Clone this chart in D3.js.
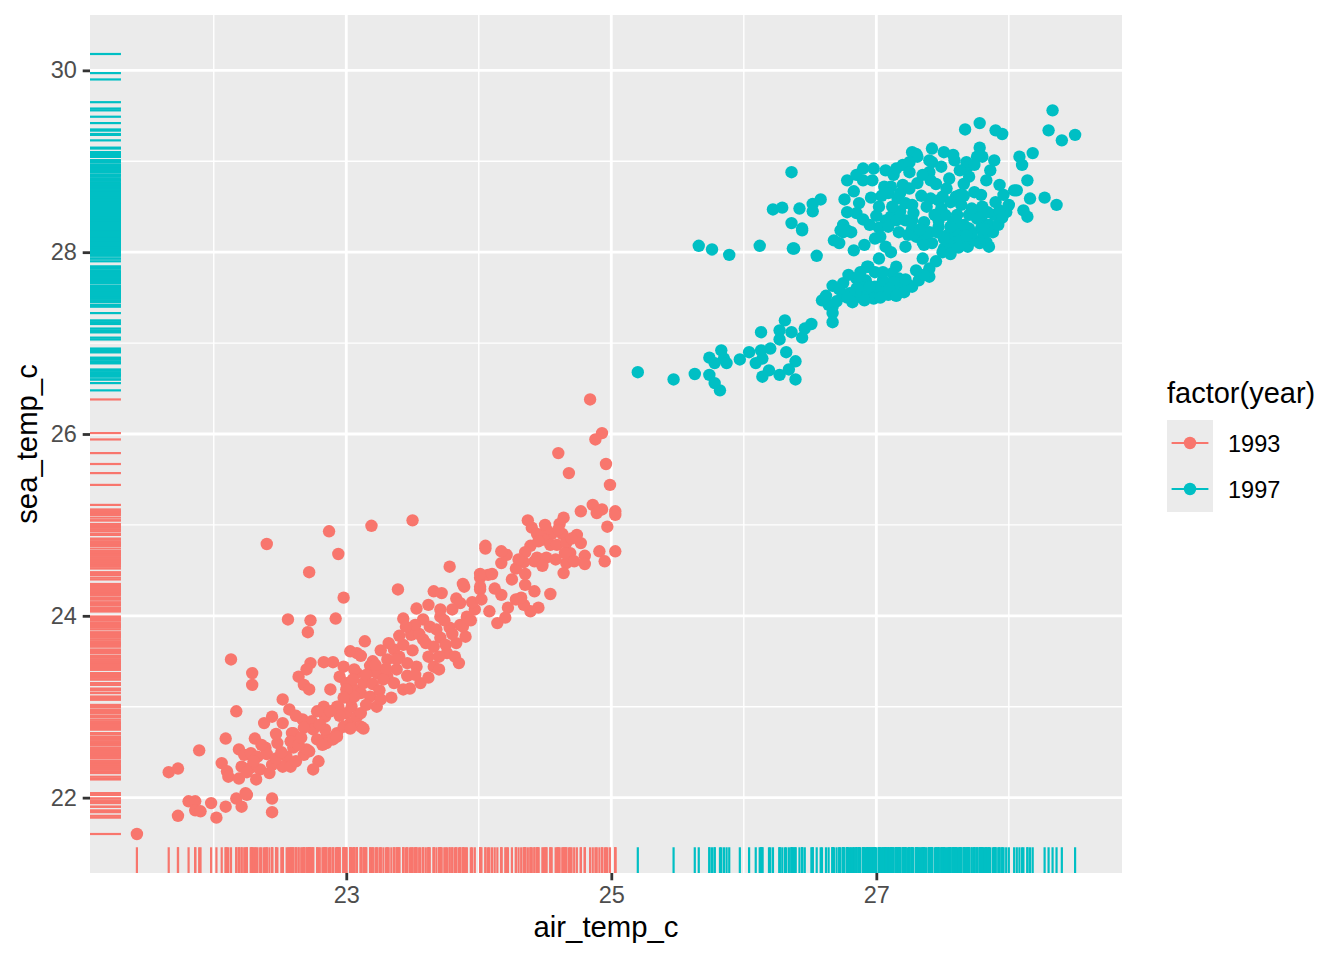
<!DOCTYPE html>
<html lang="en">
<head>
<meta charset="utf-8">
<title>sea_temp_c vs air_temp_c</title>
<script src="https://d3js.org/d3.v7.min.js"></script>
<style>
  body { margin: 0; background: #fff; }
  text { font-family: "Liberation Sans", Arial, Helvetica, sans-serif; }
</style>
</head>
<body>
<script>
// [air_temp_c, sea_temp_c] pairs
var obs1993 = [
  [21.42,21.60],[21.73,21.80],[21.66,22.28],[21.73,22.32],[21.89,22.52],[21.81,21.96],[21.86,21.96],
  [21.86,21.86],[21.90,21.85],[21.98,21.94],[22.02,21.78],[22.09,21.90],[22.17,21.99],[22.21,21.90],
  [22.24,22.05],[22.25,22.03],[22.44,21.99],[22.44,21.84],[22.13,23.52],[22.29,23.37],[22.29,23.24],
  [22.17,22.95],[22.09,22.65],[22.06,22.38],[22.10,22.29],[22.11,22.23],[22.19,22.53],[22.23,22.47],
  [22.28,22.49],[22.33,22.45],[22.21,22.34],[22.28,22.33],[22.35,22.31],[22.32,22.20],[22.19,22.21],
  [22.38,22.82],[22.44,22.89],[22.52,22.82],[22.59,22.71],[22.31,22.65],[22.39,22.55],[22.48,22.60],
  [22.60,22.55],[22.55,22.45],[22.44,22.36],[22.52,22.34],[22.58,22.34],[22.68,22.47],[22.72,22.51],
  [22.79,22.40],[22.75,22.31],[22.52,23.08],[22.57,22.97],[22.64,23.33],[22.68,23.24],[22.73,23.48],
  [22.70,23.41],[22.72,23.19],[22.83,23.49],[22.90,23.49],[22.98,23.44],[22.88,23.19],[22.67,22.86],
  [22.74,22.84],[22.75,22.75],[22.68,22.77],[22.83,23.00],[22.84,22.89],[22.85,22.67],[22.90,22.64],
  [22.93,22.71],[22.84,22.75],[23.03,23.61],[23.08,23.59],[22.95,23.33],[23.00,23.26],[23.06,23.19],
  [22.94,23.00],[23.00,22.93],[23.03,22.82],[22.98,22.78],[23.04,23.00],[23.08,23.37],[23.11,23.15],
  [23.03,23.08],[23.08,22.89],[23.11,22.78],
  [22.40,24.79],[22.87,24.93],[23.19,24.99],[23.50,25.05],[22.94,24.68],[22.72,24.48],[22.98,24.20],
  [22.56,23.96],[22.73,23.95],[22.71,23.82],[22.92,23.97],[23.78,24.54],[23.39,24.29],[24.05,24.74],
  [24.01,24.42],[24.01,24.29],[24.07,24.45],[24.08,24.05],[23.89,24.32],[23.66,24.27],[23.72,24.25],
  [23.83,24.19],[23.86,24.14],[23.80,24.07],[23.71,24.07],[23.62,24.12],[23.53,24.08],[23.43,23.97],
  [23.58,23.96],[23.63,23.88],[23.49,23.79],[23.71,23.99],[23.78,23.87],[23.91,23.99],[23.97,24.07],
  [23.86,23.90],[23.90,23.77],[23.71,23.76],[23.66,23.66],[23.83,23.70],[23.76,23.59],[23.58,23.74],
  [23.62,23.55],[23.66,23.44],[23.53,23.44],[23.46,23.34],[23.56,23.26],[23.70,23.41],[23.82,23.55],
  [23.85,23.48],[23.14,23.72],[23.11,23.56],[23.18,23.45],[23.36,23.63],[23.43,23.68],[23.31,23.52],
  [23.23,23.37],[23.31,23.33],[23.38,23.41],[23.36,23.26],[23.43,23.19],[23.34,23.10],[23.23,23.00],
  [23.18,23.11],[23.13,23.26],[23.06,23.41],[23.06,23.11],[23.11,22.93],[23.13,22.76],[23.03,22.76],
  [24.84,26.38],[24.93,26.01],[24.88,25.94],[24.60,25.79],[24.96,25.67],[24.68,25.57],[24.99,25.44],
  [24.77,25.15],[24.86,25.22],[24.93,25.17],[24.89,25.13],[25.03,25.15],[25.03,25.11],[24.97,24.98],
  [25.03,24.71],[24.91,24.71],[24.95,24.60],[24.64,25.08],[24.61,25.01],[24.63,24.90],[24.55,24.90],
  [24.51,24.95],[24.49,24.84],[24.54,24.78],[24.59,24.78],[24.66,24.80],[24.74,24.89],[24.77,24.80],
  [24.69,24.69],[24.66,24.58],[24.65,24.69],[24.37,25.05],[24.40,24.97],[24.44,24.90],[24.39,24.77],
  [24.44,24.64],[24.42,24.60],[24.51,24.64],[24.34,24.59],[24.35,24.46],[24.64,24.47],[24.80,24.66],
  [24.80,24.57],[24.54,24.24],[24.35,24.34],[24.42,24.27],[24.45,24.09],[24.39,24.05],[24.34,24.12],
  [24.32,24.20],[24.28,24.18],[24.22,24.09],[24.17,24.23],[24.17,24.58],[24.21,24.67],[24.17,24.71],
  [24.05,24.77],[24.01,24.46],[24.10,24.46],[23.88,24.35],[24.01,24.32],[24.14,23.92],[24.20,23.98],
  [23.00,23.19],[22.93,23.00],[22.93,22.67],[22.85,22.60],[22.78,22.64],[22.60,22.71],[22.70,22.53],
  [22.78,22.95],[22.62,22.90],[22.58,22.62],[22.64,22.58],[22.82,22.58],[22.95,22.90],[22.88,22.95],
  [22.47,22.70],[22.40,22.48],[22.36,22.58],[22.47,22.43],[22.62,22.40],[22.30,22.40],[22.25,22.28],
  [22.42,22.27],[22.51,22.50],[22.66,22.66],[22.80,22.80],[22.98,23.10],[23.05,23.30],[23.15,23.35],
  [23.20,23.25],[23.25,23.18],[23.28,23.30],[23.20,23.50],[23.26,23.62],[23.32,23.70],[23.40,23.55],
  [23.46,23.48],[23.50,23.62],[23.55,23.80],[23.60,23.70],[23.68,23.85],[23.74,23.95],[23.80,23.80],
  [23.88,23.88],[23.94,23.95],[23.52,23.90],[23.45,23.88],[23.40,23.78],[23.30,23.42],[23.22,23.46],
  [23.26,23.08],[23.15,23.02],[23.38,23.52],[23.48,23.20],[23.52,23.35],[23.62,23.32],[23.70,23.55],
  [23.75,23.68],[23.95,24.15],[24.02,24.18],[24.12,24.30],[24.25,24.40],[24.28,24.52],[24.35,24.70],
  [24.48,24.55],[24.58,24.62],[24.70,24.85],[24.72,24.60],[24.60,24.95],[24.45,24.82],[24.30,24.62],
  [24.50,25.00]
];

var obs1997 = [
  [25.66,28.07],[25.76,28.03],[25.89,27.97],[26.12,28.07],[26.37,28.04],[26.55,27.96],[26.44,28.24],
  [26.68,28.13],[26.72,28.10],[26.75,28.22],[26.81,28.22],[26.83,28.02],[26.91,28.08],[26.93,27.84],
  [26.67,27.63],[26.72,27.59],[26.75,27.66],[26.79,27.75],[26.85,27.71],[26.87,27.62],[26.87,27.51],
  [26.90,27.69],[26.93,27.58],[26.59,27.47],[26.64,27.42],[26.67,27.40],[26.67,27.33],[26.67,27.23],
  [26.51,27.21],[26.46,27.16],[26.44,27.06],[26.36,27.12],[26.31,27.25],[26.27,27.14],[26.27,27.04],
  [26.13,27.12],[26.32,26.90],[26.39,26.80],[26.34,26.71],[26.39,26.60],[26.27,26.65],[26.19,26.70],
  [26.14,26.63],[26.20,26.94],[26.13,26.92],[26.14,26.83],[26.09,26.78],[26.04,26.90],[25.97,26.82],
  [25.85,26.83],[25.83,26.92],[25.74,26.84],[25.78,26.78],[25.87,26.78],[25.74,26.65],[25.78,26.56],
  [25.82,26.48],[25.63,26.66],[25.47,26.60],[25.20,26.68],
  [26.36,28.88],[26.22,28.47],[26.29,28.49],[26.42,28.48],[26.52,28.53],[26.58,28.58],[26.52,28.45],
  [26.36,28.32],[26.44,28.26],[26.38,28.04],[26.78,28.79],[26.90,28.92],[26.90,28.79],[26.97,28.79],
  [26.83,28.67],[26.76,28.58],[26.87,28.54],[26.78,28.44],[26.85,28.43],[26.90,28.36],[26.75,28.30],
  [26.78,28.24],[26.73,28.24],[27.02,28.50],[27.07,28.90],[27.06,28.72],[27.13,28.85],[27.20,28.96],
  [27.27,29.10],[27.30,29.08],[27.42,29.14],[27.51,29.10],[27.58,29.07],[27.42,28.99],[27.49,28.94],
  [27.40,28.88],[27.41,28.79],[27.31,28.76],[27.55,28.81],[27.20,28.74],[27.11,28.72],[27.09,28.65],
  [27.16,28.59],[27.22,28.54],[27.27,28.52],[27.41,28.59],[27.47,28.57],[27.49,28.48],[27.60,28.61],
  [27.11,28.39],[27.07,28.35],[27.15,28.35],[27.22,28.35],[27.27,28.35],[27.36,28.33],[27.02,28.27],
  [27.03,28.17],[27.09,28.28],[27.17,28.22],[27.27,28.26],[27.30,28.17],[27.37,28.15],[27.47,28.35],
  [27.52,28.41],[27.58,28.13],[27.42,28.10],[27.22,28.06],[27.07,28.06],[27.11,28.00],[26.99,28.15],
  [27.02,27.93],[26.94,27.84],[26.99,27.78],[27.15,27.84],[27.35,27.93],[27.40,27.82],[27.40,27.73],
  [27.12,27.77],[27.27,27.62],[27.20,27.58],[27.17,27.71],[27.07,27.66],[26.99,27.62],[26.92,27.69],
  [26.87,27.73],[26.85,27.60],[26.97,27.53],[27.07,27.55],
  [28.33,29.56],[28.30,29.34],[28.40,29.23],[28.50,29.29],[28.18,29.09],[28.08,29.05],[28.10,28.96],
  [28.06,28.68],[28.16,28.59],[28.27,28.60],[28.36,28.52],[28.14,28.39],[27.78,29.42],[27.67,29.35],
  [27.90,29.34],[27.95,29.30],[27.78,29.15],[27.80,29.05],[27.76,29.05],[27.68,28.99],[27.69,28.94],
  [27.86,28.90],[27.83,28.79],[27.70,28.83],[27.66,28.75],[27.74,28.66],[27.79,28.63],[27.90,28.55],
  [27.98,28.44],[27.63,28.63],[27.74,28.46],[27.79,28.44],[27.80,28.33],[27.79,28.26],[27.85,28.06],
  [27.83,28.11],[27.69,28.06],[27.70,28.26],[27.61,28.41],[27.58,28.33],[27.64,28.22],[27.54,28.19],
  [27.51,28.04],[27.35,28.11],[27.47,28.28],[27.50,28.61],[27.31,29.05],[27.25,28.99],[27.24,28.19],
  [27.59,28.24],[27.63,28.13],[27.66,28.30],[27.74,28.13],[27.81,28.19],[27.85,28.30],[27.89,28.41],
  [27.93,28.46],[27.55,28.08],[27.51,28.15],[27.40,28.22],[27.36,28.08],[27.44,28.41],[27.64,28.52],
  [27.70,28.41],[27.76,28.37],[27.84,28.44],[28.00,28.52],[27.96,28.63],[28.04,28.68],[28.11,28.46],
  [28.14,28.79],[27.93,28.74],[27.89,29.01],[27.74,28.96],[27.63,28.90],[27.59,29.01],[27.40,29.01],
  [27.02,27.58],[27.09,27.53],[27.17,27.60],[27.21,27.56],[27.25,27.63],[27.32,27.69],[27.36,27.75],
  [27.13,27.67],[27.05,27.69],[26.94,27.56],[26.98,27.49],[26.91,27.47],
  [26.80,27.55],[26.95,27.62],[27.03,27.50],[27.10,27.60],[27.15,27.52],[26.88,27.78],[26.75,27.52],
  [26.82,27.45],[27.05,27.78],[27.22,27.70],[27.30,27.80],[27.45,27.90],[27.50,28.00],[27.56,27.98],
  [27.62,28.05],[27.72,28.20],[27.78,28.10],[27.82,28.25],[27.88,28.22],[27.92,28.30],[27.95,28.38],
  [27.60,28.35],[27.56,28.28],[27.68,28.18],[27.72,28.48],[27.80,28.50],[27.46,28.22],[27.33,28.25],
  [27.28,28.43],[27.18,28.45],[27.12,28.50],[27.00,28.40],[26.95,28.30],[26.96,28.60],[27.04,28.62],
  [27.18,28.65],[27.25,28.70],[27.34,28.62],[27.38,28.50],[27.56,28.55],[27.66,28.62],[27.53,28.70],
  [27.45,28.75],[27.35,28.85],[27.25,28.88],[27.15,28.92],[26.98,28.92],[26.85,28.85],
  [26.62,27.52],[26.70,27.46],[26.78,27.50]
];

// 1997 days with a sea reading but no air reading (rug only)
var seaOnly1997 = [30.18, 29.97, 29.90, 29.65, 29.58, 29.49];

var years = ["1993", "1997"];
var colours = ["#F8766D", "#00BFC4"];
var xMajor = [23, 25, 27], xMinor = [22, 24, 26, 28];
var yMajor = [22, 24, 26, 28, 30], yMinor = [23, 25, 27, 29];

var width = 1344, height = 960;
var panel = { left: 90, top: 15, right: 1122, bottom: 873 };

var rows = [];
obs1993.forEach(function(d) { rows.push({ year: "1993", air: d[0], sea: d[1] }); });
obs1997.forEach(function(d) { rows.push({ year: "1997", air: d[0], sea: d[1] }); });
seaOnly1997.forEach(function(s) { rows.push({ year: "1997", air: null, sea: s }); });

function expand(ext) {
  var pad = (ext[1] - ext[0]) * 0.05;
  return [ext[0] - pad, ext[1] + pad];
}

var x = d3.scaleLinear()
  .domain(expand(d3.extent(rows.filter(function(d) { return d.air != null; }), function(d) { return d.air; })))
  .range([panel.left, panel.right]);
var y = d3.scaleLinear()
  .domain(expand(d3.extent(rows, function(d) { return d.sea; })))
  .range([panel.bottom, panel.top]);
var colour = d3.scaleOrdinal().domain(years).range(colours);

var svg = d3.select("body").append("svg")
  .attr("width", width)
  .attr("height", height);

// panel background
svg.append("rect")
  .attr("x", panel.left).attr("y", panel.top)
  .attr("width", panel.right - panel.left)
  .attr("height", panel.bottom - panel.top)
  .attr("fill", "#EBEBEB");

var grid = svg.append("g").attr("stroke", "#fff");
grid.selectAll(".vmin").data(xMinor).enter().append("line")
  .attr("x1", function(d) { return x(d); }).attr("x2", function(d) { return x(d); })
  .attr("y1", panel.top).attr("y2", panel.bottom).attr("stroke-width", 1.4);
grid.selectAll(".hmin").data(yMinor).enter().append("line")
  .attr("y1", function(d) { return y(d); }).attr("y2", function(d) { return y(d); })
  .attr("x1", panel.left).attr("x2", panel.right).attr("stroke-width", 1.4);
grid.selectAll(".vmaj").data(xMajor).enter().append("line")
  .attr("x1", function(d) { return x(d); }).attr("x2", function(d) { return x(d); })
  .attr("y1", panel.top).attr("y2", panel.bottom).attr("stroke-width", 2.8);
grid.selectAll(".hmaj").data(yMajor).enter().append("line")
  .attr("y1", function(d) { return y(d); }).attr("y2", function(d) { return y(d); })
  .attr("x1", panel.left).attr("x2", panel.right).attr("stroke-width", 2.8);

// points
var withAir = rows.filter(function(d) { return d.air != null; });
svg.append("g").selectAll("circle")
  .data(withAir)
  .enter().append("circle")
  .attr("cx", function(d) { return x(d.air); })
  .attr("cy", function(d) { return y(d.sea); })
  .attr("r", 6.2)
  .attr("fill", function(d) { return colour(d.year); });

// rugs
var rugX = (panel.right - panel.left) * 0.03;
var rugY = (panel.bottom - panel.top) * 0.03;
var rug = svg.append("g").attr("stroke-width", 2.2);
rug.selectAll(".rb").data(withAir).enter().append("line")
  .attr("x1", function(d) { return x(d.air); }).attr("x2", function(d) { return x(d.air); })
  .attr("y1", panel.bottom).attr("y2", panel.bottom - rugY)
  .attr("stroke", function(d) { return colour(d.year); });
rug.selectAll(".rl").data(rows).enter().append("line")
  .attr("y1", function(d) { return y(d.sea); }).attr("y2", function(d) { return y(d.sea); })
  .attr("x1", panel.left).attr("x2", panel.left + rugX)
  .attr("stroke", function(d) { return colour(d.year); });

// axes
var xAxis = d3.axisBottom(x).tickValues(xMajor).tickSize(7.3).tickPadding(5.9);
var yAxis = d3.axisLeft(y).tickValues(yMajor).tickSize(7.3).tickPadding(5.9);

function styleAxis(g) {
  g.select(".domain").remove();
  g.selectAll(".tick line").attr("stroke", "#333333").attr("stroke-width", 2.8);
  g.selectAll(".tick text").attr("fill", "#4D4D4D").attr("font-size", "23.5px")
    .attr("font-family", "'Liberation Sans', Arial, sans-serif");
}
svg.append("g").attr("transform", "translate(0," + panel.bottom + ")").call(xAxis).call(styleAxis);
svg.append("g").attr("transform", "translate(" + panel.left + ",0)").call(yAxis).call(styleAxis);

svg.append("text")
  .attr("x", (panel.left + panel.right) / 2).attr("y", 937)
  .attr("text-anchor", "middle").attr("font-size", "29.3px").attr("fill", "#000")
  .text("air_temp_c");
svg.append("text")
  .attr("transform", "translate(37," + (panel.top + panel.bottom) / 2 + ") rotate(-90)")
  .attr("text-anchor", "middle").attr("font-size", "29.3px").attr("fill", "#000")
  .text("sea_temp_c");

// legend
var legend = svg.append("g").attr("transform", "translate(1167,0)");
legend.append("text").attr("x", 0).attr("y", 403)
  .attr("font-size", "29px").attr("fill", "#000").text("factor(year)");
var key = legend.selectAll(".key").data(years).enter().append("g")
  .attr("transform", function(d, i) { return "translate(0," + (420 + i * 46) + ")"; });
key.append("rect").attr("width", 46).attr("height", 46).attr("fill", "#EBEBEB");
key.append("line").attr("x1", 4.6).attr("x2", 41.4).attr("y1", 23).attr("y2", 23)
  .attr("stroke-width", 2.2).attr("stroke", function(d) { return colour(d); });
key.append("circle").attr("cx", 23).attr("cy", 23).attr("r", 6.2)
  .attr("fill", function(d) { return colour(d); });
key.append("text").attr("x", 61).attr("y", 31.5)
  .attr("font-size", "23.5px").attr("fill", "#000").text(function(d) { return d; });
</script>
</body>
</html>
